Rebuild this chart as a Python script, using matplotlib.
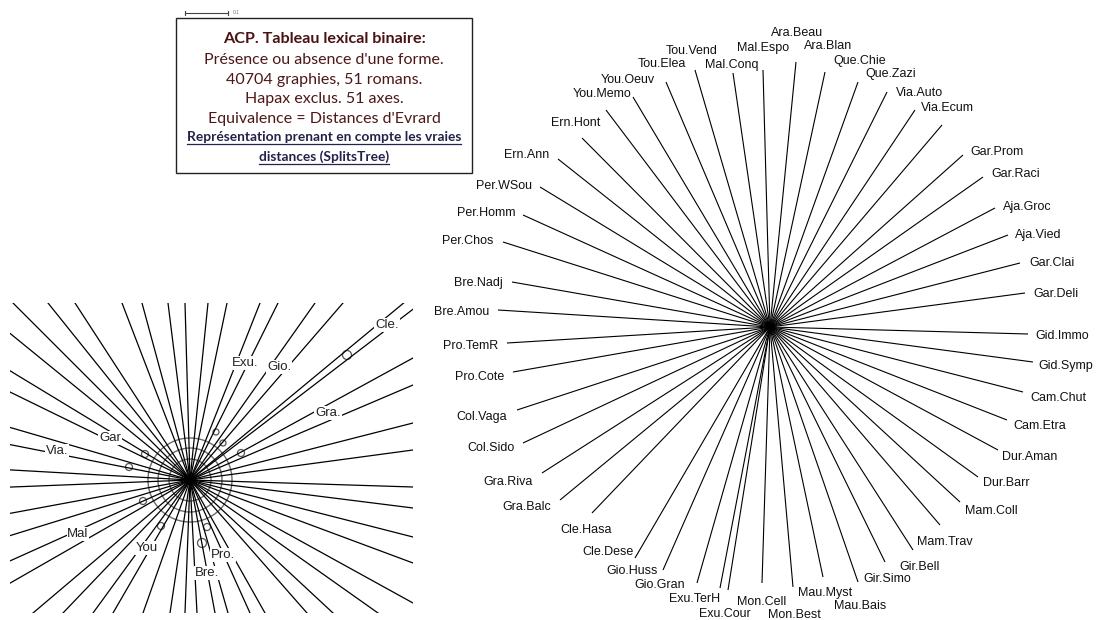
import matplotlib.pyplot as plt
from matplotlib.patches import Circle, Rectangle
from matplotlib.lines import Line2D

# -----------------------------
# 1. Data
# -----------------------------

# right star: tip of each branch, in pixels from the centre (y up)
novels = ["Bre.Amou", "Bre.Nadj", "Per.Chos", "Per.Homm", "Per.WSou", "Ern.Ann",
          "Ern.Hont", "You.Memo", "You.Oeuv", "Tou.Elea", "Tou.Vend", "Mal.Conq",
          "Mal.Espo", "Ara.Beau", "Ara.Blan", "Que.Chie", "Que.Zazi", "Via.Auto",
          "Via.Ecum", "Gar.Prom", "Gar.Raci", "Aja.Groc", "Aja.Vied", "Gar.Clai",
          "Gar.Deli", "Gid.Immo", "Gid.Symp", "Cam.Chut", "Cam.Etra", "Dur.Aman",
          "Dur.Barr", "Mam.Coll", "Mam.Trav", "Gir.Bell", "Gir.Simo", "Mau.Bais",
          "Mau.Myst", "Mon.Best", "Mon.Cell", "Exu.Cour", "Exu.TerH", "Gio.Gran",
          "Gio.Huss", "Cle.Dese", "Cle.Hasa", "Gra.Balc", "Gra.Riva", "Col.Sido",
          "Col.Vaga", "Pro.Cote", "Pro.TemR"]
tip_x = [-272, -258, -267, -247, -230, -212, -188, -164, -137, -104, -75, -37,
         -7, 26, 55, 88, 117, 145, 172, 193, 213, 225, 238, 250,
         255, 258, 263, 253, 237, 228, 208, 190, 170, 143, 115, 88,
         53, 23, -8, -42, -50, -73, -107, -135, -178, -210, -228, -247,
         -253, -257, -263]
tip_y = [17, 45, 85, 112, 140, 168, 189, 217, 230, 245, 257, 254,
         257, 265, 255, 245, 235, 217, 202, 172, 150, 119, 92, 64,
         34, -7, -35, -65, -93, -123, -150, -175, -198, -223, -235, -255,
         -250, -260, -256, -263, -261, -256, -243, -231, -186, -173, -146, -116,
         -83, -45, -16]
lab_x = [-308, -292, -302, -284, -266, -243, -194, -168, -142, -108, -78, -38,
         -7, 27, 58, 90, 121, 150, 177, 227, 246, 257, 268, 282,
         286, 292, 296, 288, 270, 260, 236, 221, 175, 150, 117, 90,
         55, 24, -8, -45, -75, -110, -138, -162, -184, -243, -262, -279,
         -288, -290, -299]
lab_y = [15, 44, 86, 114, 141, 172, 204, 233, 247, 263, 276, 262,
         279, 294, 281, 266, 253, 234, 219, 175, 153, 120, 92, 64,
         33, -9, -39, -71, -99, -130, -156, -184, -215, -240, -252, -279,
         -266, -288, -275, -287, -272, -258, -244, -225, -203, -180, -155, -121,
         -90, -50, -19]

# left inset (zoomed crop): ray ends, pixels from its centre
ray_x = [-177, -142, -115, -68, -48, -22, -5, 18, 37, 70, 88, 125, 153, 210, 222,
         -178, -178, -178, -178, -178, -178, -178, -178, -178, -178, -178,
         -157, -127, -97, -77, -47, -20, -5, 7, 25, 38, 60, 75, 117, 143, 188,
         223, 223, 223, 223, 223, 223, 223, 223, 223]
ray_y = [177, 177, 177, 177, 177, 177, 177, 177, 177, 177, 177, 177, 177, 174, 170,
         145, 108, 87, 52, 35, 10, -7, -33, -55, -80, -102,
         -133, -133, -133, -133, -133, -133, -133, -133, -133, -133, -133, -133, -133, -133, -133,
         122, 95, 57, 30, -7, -28, -57, -83, -123]
ring_r = [42, 32, 21]
dot_x = [157, 26, 33, 51, -45, -61, -47, -29, 17, 12]
dot_y = [125, 48, 37, 27, 26, 13, -21, -46, -47, -63]
dot_r = [4.5, 3, 3, 3.5, 3.5, 3.5, 3.5, 3.5, 3.5, 4.5]
inset_labels = ["Cle.", "Exu.", "Gio.", "Gra.", "Gar", "Via.", "Mal", "You", "Pro.", "Bre."]
inset_lx = [197, 55, 89, 138, -80, -133, -112, -43, 33, 17]
inset_ly = [155, 117, 113, 67, 42, 29, -54, -68, -75, -93]

box_lines = ["ACP. Tableau lexical binaire:",
             "Présence ou absence d'une forme.",
             "40704 graphies, 51 romans.",
             "Hapax exclus. 51 axes.",
             "Equivalence = Distances d'Evrard",
             "Représentation prenant en compte les vraies",
             "distances (SplitsTree)"]

# -----------------------------
# 2. Figure
# -----------------------------

W, H = 1100, 620
fig = plt.figure(figsize=(11, 6.2), dpi=100)

# right star, centre at pixel (770, 327)
ax = fig.add_axes([0, 0, 1, 1])
ax.set_xlim(-770, W - 770)
ax.set_ylim(-(H - 327), 327)
ax.axis("off")
for x, y, lx, ly, name in zip(tip_x, tip_y, lab_x, lab_y, novels):
    ax.plot([0, x], [0, y], color="black", lw=0.8, solid_capstyle="butt")
    ax.text(lx, ly, name, ha="center", va="center", fontsize=9,
            family="Liberation Sans", color="#111111")

# left inset, frame x 10..413, y 303..613, centre at (190, 480)
ax2 = fig.add_axes([10 / W, (H - 613) / H, 403 / W, 310 / H])
ax2.set_xlim(-180, 223)
ax2.set_ylim(-133, 177)
ax2.axis("off")
for x, y in zip(ray_x, ray_y):
    ax2.plot([0, x * 1.05], [0, y * 1.05], color="black", lw=0.9)
for r in ring_r:
    ax2.add_patch(Circle((0, 0), r, fill=False, ec="#6a6a6a", lw=1.0))
for x, y, r in zip(dot_x, dot_y, dot_r):
    ax2.add_patch(Circle((x, y), r, fill=False, ec="#555555", lw=0.9))
for lx, ly, name in zip(inset_lx, inset_ly, inset_labels):
    ax2.text(lx, ly, name, ha="center", va="center", fontsize=9.5,
             family="Liberation Sans", color="#222222",
             bbox=dict(fc="white", ec="none", pad=0.6))

# title box
fig.patches.append(Rectangle((176 / W, 1 - 173 / H), 296 / W, 155 / H,
                             transform=fig.transFigure, fill=False,
                             ec="#222222", lw=1.0))
# scale bar
fig.lines.append(Line2D([185 / W, 228 / W], [1 - 13 / H, 1 - 13 / H],
                        transform=fig.transFigure, color="#444444", lw=0.8))
for xb in [185, 228]:
    fig.lines.append(Line2D([xb / W, xb / W], [1 - 11 / H, 1 - 15 / H],
                            transform=fig.transFigure, color="#444444", lw=0.8))
fig.text(233 / W, 1 - 13 / H, "0.1", fontsize=3.5, color="#777777",
         va="center", family="Liberation Sans")

ys = [39, 60, 80, 99, 119, 137, 157]
texts = []
for i, (s, y) in enumerate(zip(box_lines, ys)):
    if i == 0:
        kw = dict(fontsize=11.6, weight="bold", color="#4a1212")
    elif i < 5:
        kw = dict(fontsize=11.5, color="#4d1818")
    else:
        kw = dict(fontsize=9.9, weight="bold", color="#22224a")
    t = fig.text(324 / W, 1 - y / H, s, ha="center", va="center",
                 family="Lato", **kw)
    texts.append(t)

# underline the last two lines
fig.canvas.draw()
r = fig.canvas.get_renderer()
for t in texts[5:]:
    bb = t.get_window_extent(r)
    yy = (bb.y0 - 0.5) / H
    fig.lines.append(Line2D([bb.x0 / W, bb.x1 / W], [yy, yy],
                            transform=fig.transFigure, color="#22224a", lw=0.9))

fig.savefig("out.png", dpi=100, facecolor="white")
